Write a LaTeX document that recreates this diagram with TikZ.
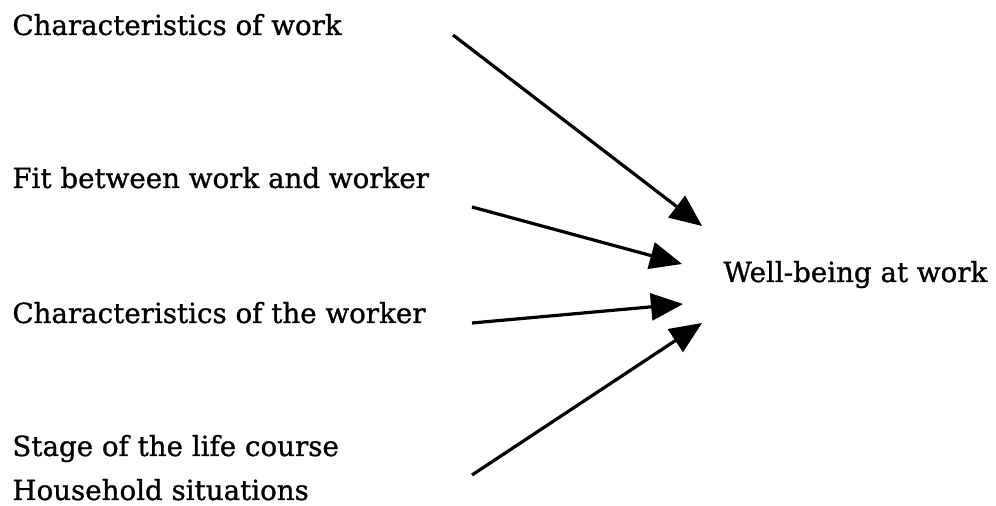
\documentclass[tikz,border=0pt]{standalone}
\usepackage{fontspec}
\setmainfont{DejaVu Serif}[FakeBold=1]
\usetikzlibrary{arrows.meta,positioning}

\begin{document}
\begin{tikzpicture}
[x=0.5pt,y=-0.5pt,
label/.style={anchor=base west,inner sep=0pt,font=\fontsize{13.85}{22}\selectfont},
link/.style={line width=1.6pt,-{Triangle[length=16pt,width=13.5pt]}}]
\useasboundingbox (0,0) rectangle (996,506);

\node[label] (work) at (12,35) {Characteristics of work};
\node[label] (fit) at (12,188) {Fit between work and worker};
\node[label] (worker) at (12,323) {Characteristics of the worker};
\node[label,align=left] (stage) at (12,500) {Stage of the life course\\Household situations};
\node[label] (wb) at (723,282) {Well-being at work};

\coordinate (s1) at (453,35);
\coordinate (s2) at (472,207);
\coordinate (s3) at (472,323);
\coordinate (s4) at (472,475);
\coordinate (t1) at (702,226);
\coordinate (t2) at (682,264);
\coordinate (t3) at (683,304);
\coordinate (t4) at (702,323);

\draw [link] (s1) -- (t1);
\draw [link] (s2) -- (t2);
\draw [link] (s3) -- (t3);
\draw [link] (s4) -- (t4);
\end{tikzpicture}
\end{document}
